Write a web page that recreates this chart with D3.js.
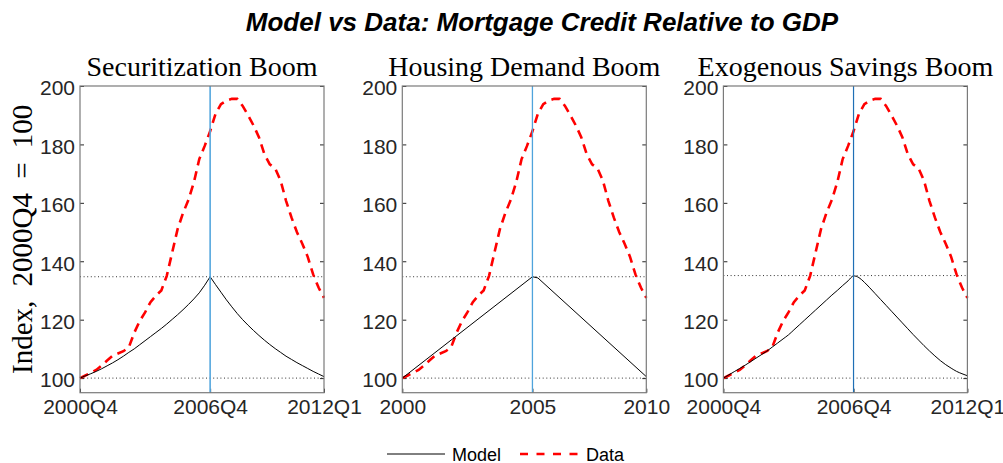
<!DOCTYPE html>
<html>
<head>
<meta charset="utf-8">
<script src="https://cdn.jsdelivr.net/npm/d3@7"></script>
<style>
  body { margin: 0; background: #fff; }
  svg { display: block; }
  .tick text { font-family: "Liberation Sans", Arial, Helvetica, sans-serif; fill: #262626; }
</style>
</head>
<body>
<div id="chart"></div>
<script>
// quarters 2000Q4 .. 2012Q1 -> index 0..45
const dataIndex = [100.0, 100.9, 101.8, 102.8, 104.3, 106.0, 107.6, 108.4, 109.2, 110.5,
    115.5, 119.5, 122.5, 126.0, 128.2, 130.0, 135.0, 143.0, 151.0, 156.5,
    161.0, 167.0, 175.0, 179.5, 184.5, 190.5, 193.8, 195.0, 195.6, 195.6,
    193.2, 190.0, 186.5, 182.5, 176.7, 173.2, 171.8, 167.6, 160.7, 155.0,
    150.0, 146.0, 141.5, 135.5, 131.0, 127.5];

const modelSecuritization = [100.0, 100.8, 101.5, 102.3, 103.2, 104.2, 105.2, 106.3, 107.5, 108.8,
    110.0, 111.4, 112.8, 114.2, 115.6, 117.0, 118.5, 120.1, 121.7, 123.4,
    125.2, 127.1, 129.2, 131.8, 134.7, 132.0, 129.4, 126.8, 124.4, 122.1,
    120.0, 118.1, 116.3, 114.6, 113.0, 111.5, 110.1, 108.8, 107.5, 106.4,
    105.3, 104.3, 103.3, 102.3, 101.4, 100.5];

// housing demand model is piecewise straight: [quarter, value]
const modelHousing = [[0, 100.0], [24, 134.7], [25, 134.3], [45, 100.5]];

const modelSavings = [100.0, 101.1, 102.2, 103.3, 104.4, 105.6, 106.8, 108.0, 109.2, 110.6,
    112.0, 113.4, 114.8, 116.5, 118.2, 119.9, 121.6, 123.3, 125.0, 126.7,
    128.4, 130.0, 131.7, 133.3, 135.0, 134.4, 132.8, 130.9, 128.9, 126.9,
    124.9, 122.9, 120.9, 118.9, 116.9, 114.9, 113.0, 111.1, 109.3, 107.6,
    106.0, 104.6, 103.4, 102.3, 101.5, 100.8];

const panelTitles = ["Securitization Boom", "Housing Demand Boom", "Exogenous Savings Boom"];
const xTickQuarters = [0, 24, 45];
const xTickLabels = [["2000Q4", "2006Q4", "2012Q1"], ["2000", "2005", "2010"], ["2000Q4", "2006Q4", "2012Q1"]];
const yTicks = [100, 120, 140, 160, 180, 200];
const boomQuarter = 24;
const peakLevels = [134.7, 134.7, 135.1];

const panels = [
    {left: 80, line: modelSecuritization.map((v, i) => [i, v]), curve: d3.curveLinear, vcolor: "#55a7de", vwidth: 1.6},
    {left: 402.3, line: modelHousing, curve: d3.curveLinear, vcolor: "#4fa3dc", vwidth: 1.3},
    {left: 723.4, line: modelSavings.map((v, i) => [i, v]), curve: d3.curveMonotoneX, vcolor: "#1f6fb5", vwidth: 1.2}
];

const width = 1003, height = 463;
const pw = 244, plotTop = 86, plotBottom = 392.7;

const svg = d3.select("#chart").append("svg")
    .attr("width", width)
    .attr("height", height);

svg.append("text")
    .attr("x", 542)
    .attr("y", 31)
    .attr("text-anchor", "middle")
    .style("font-family", "'Liberation Sans', Arial, sans-serif")
    .style("font-weight", "bold")
    .style("font-style", "italic")
    .style("font-size", "26px")
    .text("Model vs Data: Mortgage Credit Relative to GDP");

svg.append("text")
    .attr("transform", "translate(32," + ((plotTop + plotBottom) / 2) + ") rotate(-90)")
    .attr("text-anchor", "middle")
    .style("font-family", "'Liberation Serif', 'Times New Roman', serif")
    .style("font-size", "29px")
    .style("word-spacing", "7px")
    .text("Index, 2000Q4 = 100");

const y = d3.scaleLinear().domain([95, 200]).range([plotBottom, plotTop]);

panels.forEach(function(p, k) {
    const x = d3.scaleLinear().domain([0, 45]).range([p.left, p.left + pw]);
    const g = svg.append("g");

    // dotted reference levels
    [100, peakLevels[k]].forEach(function(v) {
        g.append("line")
            .attr("x1", x(0)).attr("x2", x(45))
            .attr("y1", y(v)).attr("y2", y(v))
            .attr("stroke", "#333")
            .attr("stroke-width", 1)
            .attr("stroke-dasharray", "1,2.6");
    });

    // y axis left with labels, right without
    g.append("g")
        .attr("transform", "translate(" + x(0) + ",0)")
        .call(d3.axisLeft(y).tickValues(yTicks).tickSizeInner(-4).tickSizeOuter(0).tickPadding(5))
        .call(a => a.select(".domain").remove())
        .call(a => a.selectAll(".tick line").attr("stroke", "#262626"))
        .call(a => a.selectAll(".tick text").style("font-size", "21px").attr("dy", "0.42em"));

    g.append("g")
        .attr("transform", "translate(" + x(45) + ",0)")
        .call(d3.axisRight(y).tickValues(yTicks).tickSizeInner(-4).tickSizeOuter(0).tickFormat(""))
        .call(a => a.select(".domain").remove())
        .call(a => a.selectAll(".tick line").attr("stroke", "#262626"));

    g.append("g")
        .attr("transform", "translate(0," + plotBottom + ")")
        .call(d3.axisBottom(x).tickValues(xTickQuarters).tickSizeInner(-4).tickSizeOuter(0).tickPadding(6)
            .tickFormat((d, i) => xTickLabels[k][i]))
        .call(a => a.select(".domain").remove())
        .call(a => a.selectAll(".tick line").attr("stroke", "#262626"))
        .call(a => a.selectAll(".tick text").style("font-size", "21px"));

    // data
    g.append("path")
        .datum(dataIndex)
        .attr("fill", "none")
        .attr("stroke", "#ff0000")
        .attr("stroke-width", 2.6)
        .attr("stroke-dasharray", "9,6")
        .attr("d", d3.line().x((d, i) => x(i)).y(d => y(d)));

    // model
    g.append("path")
        .datum(p.line)
        .attr("fill", "none")
        .attr("stroke", "#000")
        .attr("stroke-width", 1)
        .attr("d", d3.line().curve(p.curve).x(d => x(d[0])).y(d => y(d[1])));

    // boom peak marker
    g.append("line")
        .attr("x1", x(boomQuarter)).attr("x2", x(boomQuarter))
        .attr("y1", plotTop).attr("y2", plotBottom)
        .attr("stroke", p.vcolor)
        .attr("stroke-width", p.vwidth);

    // box
    g.append("rect")
        .attr("x", x(0)).attr("y", plotTop)
        .attr("width", pw).attr("height", plotBottom - plotTop)
        .attr("fill", "none")
        .attr("stroke", "#7a7a7a")
        .attr("stroke-width", 1.2);

    g.append("text")
        .attr("x", x(0) + pw / 2)
        .attr("y", 76)
        .attr("text-anchor", "middle")
        .style("font-family", "'Liberation Serif', 'Times New Roman', serif")
        .style("font-size", "28px")
        .text(panelTitles[k]);
});

// legend
const lg = svg.append("g");
lg.append("line")
    .attr("x1", 387).attr("x2", 445).attr("y1", 454).attr("y2", 454)
    .attr("stroke", "#000").attr("stroke-width", 1);
lg.append("text")
    .attr("x", 452).attr("y", 460.5)
    .style("font-family", "'Liberation Sans', Arial, sans-serif")
    .style("font-size", "18px")
    .text("Model");
lg.append("line")
    .attr("x1", 520).attr("x2", 580).attr("y1", 454).attr("y2", 454)
    .attr("stroke", "#ff0000").attr("stroke-width", 2.6)
    .attr("stroke-dasharray", "8,8.5");
lg.append("text")
    .attr("x", 586).attr("y", 460.5)
    .style("font-family", "'Liberation Sans', Arial, sans-serif")
    .style("font-size", "18px")
    .text("Data");
</script>
</body>
</html>
